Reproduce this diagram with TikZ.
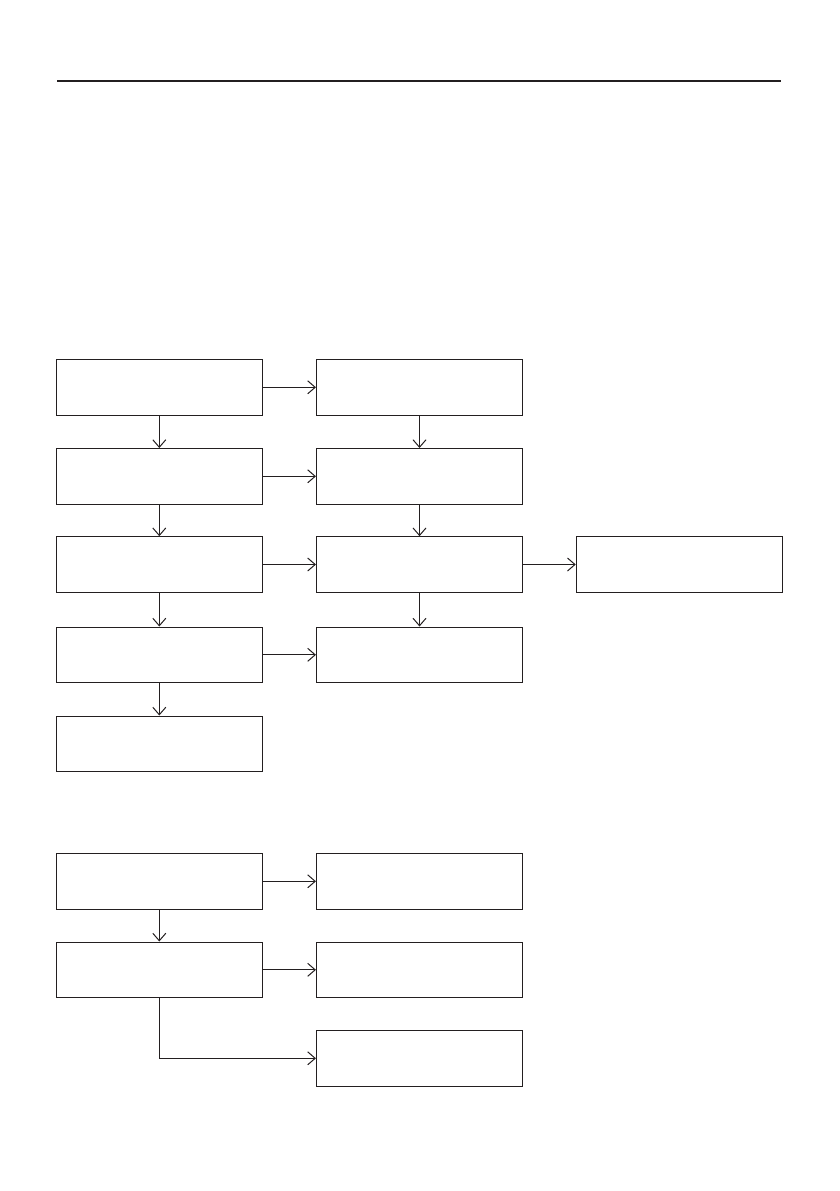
\documentclass[tikz,border=0pt]{standalone}
\usetikzlibrary{arrows.meta}
\definecolor{ink}{HTML}{231F20}
\begin{document}
\begin{tikzpicture}[x=1pt,y=-1pt,
  box/.style={draw=ink,line width=1.1pt,rectangle,inner sep=0pt,minimum width=206pt,minimum height=55.5pt},
  conn/.style={draw=ink,line width=1.1pt,-{Straight Barb[length=7.5pt,width=13pt,line width=1pt]}},
  rule/.style={draw=ink,line width=1.1pt}]
\useasboundingbox (0,0) rectangle (839,1191);
\coordinate (rl) at (57,81);
\coordinate (rr) at (781,81);
\draw[rule] (rl) -- (rr);
% upper chart
\node[box] (a1) at (159.3,387.3) {};
\node[box] (a2) at (159.3,476.3) {};
\node[box] (a3) at (159.3,564.5) {};
\node[box] (a4) at (159.3,654.8) {};
\node[box] (a5) at (159.3,743.8) {};
\node[box] (b1) at (419.5,387.3) {};
\node[box] (b2) at (419.5,476.3) {};
\node[box] (b3) at (419.5,564.5) {};
\node[box] (b4) at (419.5,654.8) {};
\node[box] (c3) at (679.3,564.5) {};
\draw[conn] (a1) -- (b1);
\draw[conn] (a2) -- (b2);
\draw[conn] (a3) -- (b3);
\draw[conn] (a4) -- (b4);
\draw[conn] (b3) -- (c3);
\draw[conn] (a1) -- (a2);
\draw[conn] (a2) -- (a3);
\draw[conn] (a3) -- (a4);
\draw[conn] (a4) -- (a5);
\draw[conn] (b1) -- (b2);
\draw[conn] (b2) -- (b3);
\draw[conn] (b3) -- (b4);
% lower chart
\node[box] (d1) at (159.3,881.3) {};
\node[box] (d2) at (159.3,969.8) {};
\node[box] (e1) at (419.5,881.3) {};
\node[box] (e2) at (419.5,969.8) {};
\node[box] (e3) at (419.5,1058.3) {};
\draw[conn] (d1) -- (e1);
\draw[conn] (d2) -- (e2);
\draw[conn] (d1) -- (d2);
\draw[conn] (d2.south) |- (e3.west);
\end{tikzpicture}
\end{document}
